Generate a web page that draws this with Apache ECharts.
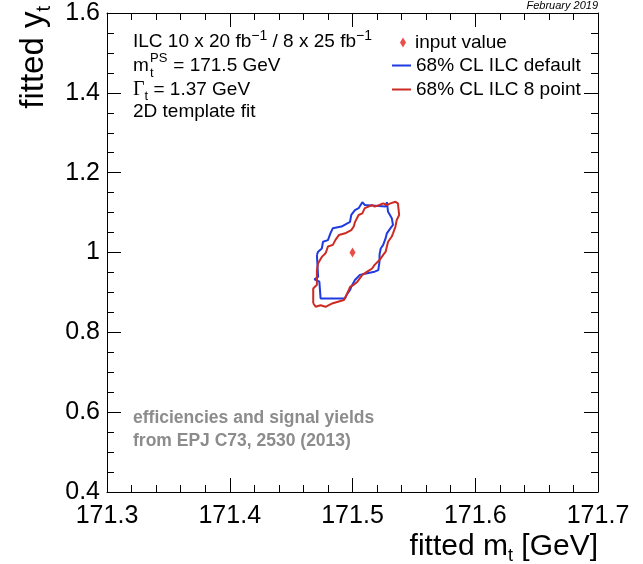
<!DOCTYPE html>
<html><head><meta charset="utf-8">
<script src="https://cdn.jsdelivr.net/npm/echarts@6/dist/echarts.min.js"></script>
<style>html,body{margin:0;padding:0;background:#fff}#c{width:643px;height:564px}</style>
</head><body><div id="c"></div>
<script>
// ---- data ----
const xRange = [171.3, 171.7];
const yRange = [0.4, 1.6];
const inputValue = [[171.5, 1.0]];
const defaultX = [171.471,171.472,171.475,171.476,171.480,171.482,171.484,171.491,171.498,171.499,171.502,171.505,171.508,171.510,171.511,171.527,171.528,171.529,171.532,171.533,171.533,171.531,171.528,171.527,171.525,171.523,171.522,171.522,171.521,171.518,171.512,171.506,171.502,171.499,171.498,171.495,171.494,171.474,171.473,171.469,171.472,171.471];
const defaultY = [0.994,1.002,1.010,1.027,1.031,1.048,1.061,1.065,1.077,1.094,1.106,1.111,1.126,1.119,1.115,1.115,1.126,1.102,1.086,1.081,1.069,1.061,1.048,1.036,1.019,1.010,0.994,0.977,0.956,0.952,0.948,0.944,0.931,0.914,0.906,0.893,0.885,0.885,0.927,0.933,0.939,0.994];
const eightX = [171.468,171.468,171.471,171.471,171.472,171.475,171.478,171.479,171.480,171.484,171.486,171.489,171.494,171.499,171.501,171.502,171.505,171.508,171.510,171.513,171.516,171.518,171.522,171.525,171.528,171.531,171.535,171.537,171.538,171.536,171.535,171.533,171.532,171.529,171.528,171.527,171.525,171.522,171.518,171.516,171.512,171.508,171.504,171.501,171.498,171.497,171.495,171.493,171.484,171.478,171.474,171.470,171.468];
const eightY = [0.873,0.910,0.919,0.956,0.973,0.989,0.998,1.006,1.015,1.019,1.031,1.044,1.048,1.056,1.065,1.076,1.094,1.098,1.111,1.115,1.119,1.115,1.119,1.123,1.119,1.123,1.127,1.123,1.094,1.081,1.065,1.048,1.040,1.027,1.015,1.002,0.994,0.981,0.969,0.960,0.952,0.944,0.927,0.919,0.914,0.906,0.893,0.881,0.873,0.864,0.868,0.864,0.873];
const seriesNames = ['input value', '68% CL ILC default', '68% CL ILC 8 point'];
const infoLines = ['ILC 10 x 20 fb{sup|−1} / 8 x 25 fb{sup|−1}', ' = 171.5 GeV', '{g|Γ}{sub|t} = 1.37 GeV', '2D template fit'];
const noteLines = ['efficiencies and signal yields', 'from EPJ C73, 2530 (2013)'];
const dateText = 'February 2019';

const zip = (a, b) => a.map((v, i) => [v, b[i]]);
const FF = "'Liberation Sans', Arial, Helvetica, sans-serif";
const BLUE = '#1f3be0', RED = '#cc2b24', DRED = '#e5221c';

const baseAxis = {
  type: 'value',
  axisLine: { show: true, lineStyle: { color: '#000', width: 1 } },
  axisTick: { show: true, inside: true, length: 14, lineStyle: { color: '#000' } },
  minorTick: { show: true, length: 7, lineStyle: { color: '#000' } },
  splitLine: { show: false },
  minorSplitLine: { show: false }
};
function xAx(pos, labels) {
  return Object.assign({}, baseAxis, {
    position: pos, min: xRange[0], max: xRange[1], interval: 0.1,
    minorTick: Object.assign({}, baseAxis.minorTick, { splitNumber: 5 }),
    axisLabel: { show: labels, color: '#000', fontSize: 25, fontFamily: FF, margin: 12 }
  });
}
function yAx(pos, labels) {
  return Object.assign({}, baseAxis, {
    position: pos, min: yRange[0], max: yRange[1], interval: 0.2,
    minorTick: Object.assign({}, baseAxis.minorTick, { splitNumber: 4 }),
    axisLabel: { show: labels, color: '#000', fontSize: 25, fontFamily: FF, margin: 7 }
  });
}
const rich = {
  sup: { fontSize: 14, fontFamily: FF, verticalAlign: 'top', lineHeight: 12, fill: '#000' },
  sub: { fontSize: 13, fontFamily: FF, verticalAlign: 'bottom', lineHeight: 12, fill: '#000' },
  g: { fontSize: 20, fontFamily: "'Liberation Serif', 'DejaVu Serif', serif", lineHeight: 26, fill: '#000' }
};
function txt(x, y, text, extra) {
  return { type: 'text', x: x, y: y, silent: true,
    style: Object.assign({ text: text, fill: '#000', fontSize: 19, fontFamily: FF, lineHeight: 26,
      textAlign: 'left', verticalAlign: 'middle', rich: rich }, extra || {}) };
}

const chart = echarts.init(document.getElementById('c'), null, { renderer: 'canvas' });
chart.setOption({
  backgroundColor: '#fff',
  animation: false,
  grid: { left: 107, right: 45, top: 13, bottom: 72 },
  xAxis: [xAx('bottom', true), xAx('top', false)],
  yAxis: [yAx('left', true), yAx('right', false)],
  legend: [
    { data: [{ name: seriesNames[0], icon: 'diamond' }], orient: 'vertical', left: 400, top: 33, padding: 0,
      itemWidth: 6, itemHeight: 10, selectedMode: false,
      textStyle: { fontSize: 19, fontFamily: FF, color: '#000', padding: [0, 0, 0, 4] } },
    { data: [{ name: seriesNames[1], icon: 'rect' }, { name: seriesNames[2], icon: 'rect' }],
      orient: 'vertical', left: 392, top: 56, itemGap: 5, padding: 0,
      itemWidth: 19, itemHeight: 2, selectedMode: false,
      textStyle: { fontSize: 19, fontFamily: FF, color: '#000' } }
  ],
  series: [
    { name: seriesNames[0], type: 'scatter', data: inputValue, symbol: 'diamond', symbolSize: [6, 10],
      itemStyle: { color: DRED }, z: 5 },
    { name: seriesNames[1], type: 'line', data: zip(defaultX, defaultY), showSymbol: false, symbol: 'none',
      lineStyle: { color: BLUE, width: 2 }, itemStyle: { color: BLUE }, smooth: false },
    { name: seriesNames[2], type: 'line', data: zip(eightX, eightY), showSymbol: false, symbol: 'none',
      lineStyle: { color: RED, width: 2 }, itemStyle: { color: RED }, smooth: false }
  ],
  graphic: [
    txt(133, 42, infoLines[0]),
    txt(133, 66, 'm'),
    txt(150, 58, 'PS', { fontSize: 13, lineHeight: 13 }),
    txt(150, 73, 't', { fontSize: 13, lineHeight: 13 }),
    txt(168, 66, infoLines[1]),
    txt(133, 90, infoLines[2]),
    txt(133, 112, infoLines[3]),
    txt(133, 418, noteLines[0], { fill: '#8c8c8c', fontWeight: 'bold', fontSize: 17.5 }),
    txt(133, 441, noteLines[1], { fill: '#8c8c8c', fontWeight: 'bold', fontSize: 17.5 }),
    txt(598, 6, dateText, { fontSize: 11, fontStyle: 'italic', textAlign: 'right', lineHeight: 12 }),
    txt(598, 547, 'fitted m{sub2|t} [GeV]', { fontSize: 30, textAlign: 'right', lineHeight: 36,
      rich: { sub2: { fontSize: 18, fontFamily: FF, verticalAlign: 'bottom', lineHeight: 18, fill: '#000' } } }),
    Object.assign(txt(34, 6, 'fitted y{sub2|t}', { fontSize: 33, textAlign: 'right', lineHeight: 40,
      rich: { sub2: { fontSize: 20, fontFamily: FF, verticalAlign: 'bottom', lineHeight: 20, fill: '#000' } } }),
      { rotation: Math.PI / 2 })
  ]
});
</script>
</body></html>
